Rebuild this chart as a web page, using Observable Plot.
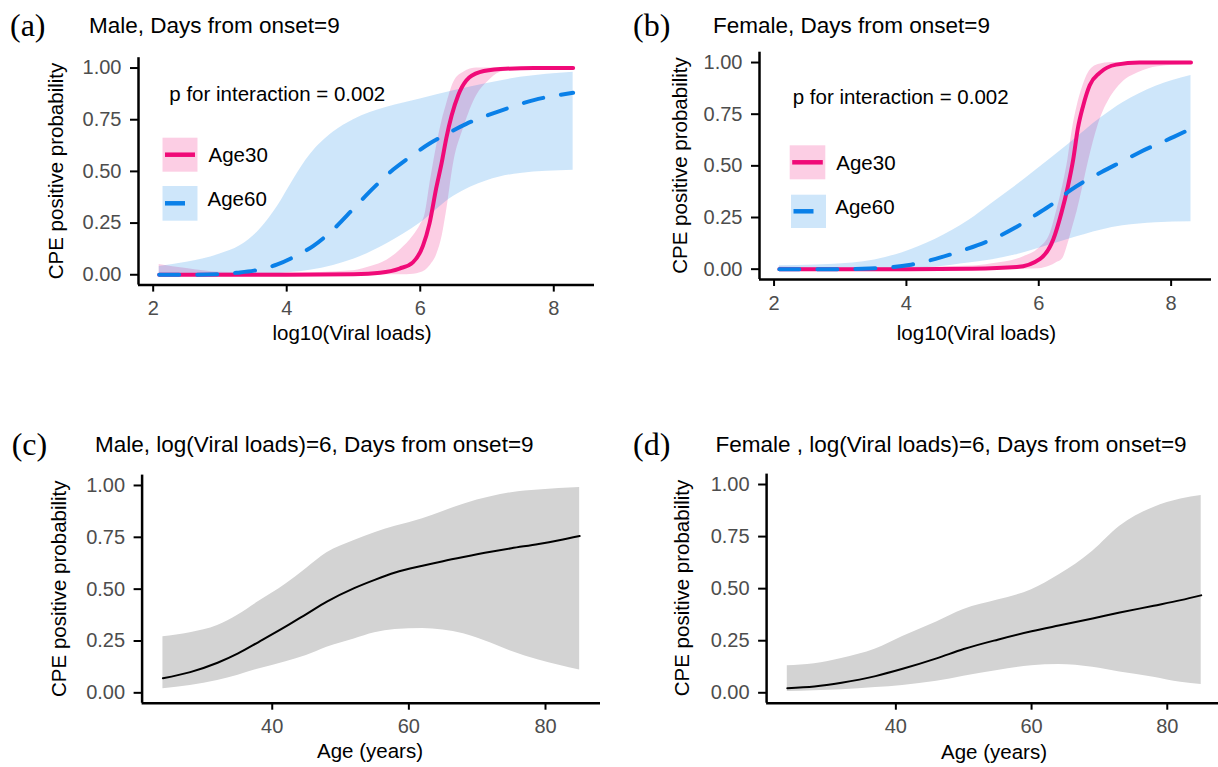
<!DOCTYPE html>
<html>
<head>
<meta charset="utf-8">
<script src="https://cdn.jsdelivr.net/npm/d3@7"></script>
<script src="https://cdn.jsdelivr.net/npm/@observablehq/plot@0.6"></script>
<style>
html,body{margin:0;padding:0;background:#fff;}
#root{position:relative;width:1218px;height:767px;overflow:hidden;background:#fff;}
#root svg{position:absolute;overflow:visible;}
</style>
</head>
<body>
<div id="root"></div>
<script>
// ---------- data ----------
// Panel (a) Male, Days from onset = 9
const a30X   = [2.09, 3.0, 4.0, 5.0, 5.4, 5.69, 5.89, 6.04, 6.14, 6.24, 6.32, 6.39, 6.47, 6.57, 6.69, 6.89, 7.2, 7.7, 8.29];
const a30Fit = [0.0, 0.0, 0.0, 0.003, 0.01, 0.03, 0.06, 0.14, 0.25, 0.42, 0.54, 0.66, 0.77, 0.87, 0.94, 0.98, 0.995, 1.0, 1.0];
const a30RibX = [2.09, 2.5, 3.0, 4.0, 5.0, 5.26, 5.5, 5.7, 5.9, 6.0, 6.07, 6.15, 6.25, 6.33, 6.39, 6.5, 6.65, 6.85, 7.0, 7.2, 7.5, 8.29];
const a30Hi  = [0.05, 0.03, 0.012, 0.008, 0.02, 0.04, 0.07, 0.12, 0.19, 0.24, 0.29, 0.45, 0.63, 0.75, 0.82, 0.93, 0.98, 1.0, 1.0, 1.0, 1.0, 1.0];
const a30Lo  = [0.0, 0.0, 0.0, 0.0, 0.0, 0.0, 0.0, 0.0, 0.003, 0.01, 0.02, 0.045, 0.1, 0.19, 0.3, 0.54, 0.71, 0.87, 0.93, 0.98, 0.995, 1.0];

const a60X   = [2.09, 2.5, 3.0, 3.26, 3.51, 3.86, 4.1, 4.4, 4.7, 5.0, 5.3, 5.6, 5.89, 6.14, 6.39, 6.69, 7.0, 7.35, 7.7, 8.29];
const a60Fit = [0.0, 0.0, 0.003, 0.01, 0.02, 0.05, 0.085, 0.14, 0.22, 0.32, 0.42, 0.51, 0.58, 0.635, 0.68, 0.73, 0.77, 0.81, 0.845, 0.88];
const a60RibX = [2.09, 2.5, 3.0, 3.3, 3.6, 3.86, 4.1, 4.35, 4.7, 5.0, 5.5, 6.0, 6.5, 7.0, 7.5, 8.29];
const a60Hi  = [0.04, 0.06, 0.1, 0.14, 0.22, 0.33, 0.46, 0.58, 0.69, 0.75, 0.81, 0.85, 0.89, 0.925, 0.955, 0.98];
const a60Lo  = [0.0, 0.0, 0.0, 0.0, 0.002, 0.005, 0.012, 0.022, 0.045, 0.075, 0.15, 0.25, 0.38, 0.455, 0.49, 0.505];

// Panel (b) Female, Days from onset = 9
const b30X   = [2.08, 3.0, 4.0, 5.0, 5.67, 6.02, 6.22, 6.34, 6.44, 6.52, 6.59, 6.67, 6.77, 6.92, 7.17, 7.52, 8.3];
const b30Fit = [0.0, 0.0, 0.0, 0.002, 0.01, 0.05, 0.145, 0.27, 0.40, 0.53, 0.68, 0.79, 0.89, 0.95, 0.99, 1.0, 1.0];
const b30RibX = [2.08, 3.0, 4.0, 5.0, 5.27, 5.77, 6.0, 6.17, 6.26, 6.36, 6.44, 6.51, 6.58, 6.66, 6.75, 6.9, 7.1, 7.25, 7.5, 7.8, 8.3];
const b30Hi  = [0.01, 0.005, 0.008, 0.015, 0.025, 0.06, 0.1, 0.17, 0.27, 0.40, 0.53, 0.68, 0.79, 0.88, 0.95, 0.99, 1.0, 1.0, 1.0, 1.0, 1.0];
const b30Lo  = [0.0, 0.0, 0.0, 0.0, 0.0, 0.0, 0.002, 0.015, 0.03, 0.05, 0.12, 0.2, 0.28, 0.39, 0.52, 0.70, 0.84, 0.9, 0.95, 0.98, 0.99];

const b60X   = [2.08, 3.0, 3.44, 3.79, 4.04, 4.44, 4.89, 5.3, 5.64, 5.94, 6.27, 6.47, 6.95, 7.25, 7.52, 8.04, 8.3];
const b60Fit = [0.0, 0.0, 0.003, 0.01, 0.02, 0.05, 0.095, 0.145, 0.20, 0.26, 0.33, 0.38, 0.47, 0.52, 0.565, 0.64, 0.68];
const b60RibX = [2.08, 3.19, 3.94, 4.44, 4.94, 5.3, 5.64, 5.94, 6.45, 6.95, 7.27, 7.77, 8.3];
const b60Hi  = [0.016, 0.03, 0.08, 0.145, 0.235, 0.32, 0.40, 0.475, 0.605, 0.735, 0.805, 0.885, 0.937];
const b60Lo  = [0.0, 0.0, 0.003, 0.01, 0.03, 0.045, 0.068, 0.095, 0.145, 0.19, 0.21, 0.225, 0.23];

// Panel (c) Male, log(Viral loads)=6
const cAge = [24, 28, 32, 35, 38, 42, 45, 48, 52, 55, 58, 62, 65, 68, 72, 75, 79, 82, 85];
const cFit = [0.07, 0.10, 0.145, 0.19, 0.245, 0.32, 0.38, 0.44, 0.505, 0.545, 0.58, 0.613, 0.635, 0.655, 0.68, 0.697, 0.718, 0.736, 0.756];
const cHi  = [0.27, 0.29, 0.325, 0.375, 0.44, 0.525, 0.6, 0.675, 0.735, 0.772, 0.803, 0.84, 0.875, 0.91, 0.945, 0.965, 0.978, 0.985, 0.99];
const cLo  = [0.02, 0.035, 0.06, 0.085, 0.115, 0.15, 0.18, 0.22, 0.26, 0.29, 0.305, 0.31, 0.303, 0.285, 0.24, 0.2, 0.158, 0.133, 0.11];

// Panel (d) Female, log(Viral loads)=6
const dAge = [24, 28, 32, 37, 41, 46, 50, 55, 60, 64, 69, 73, 78, 82, 85];
const dFit = [0.022, 0.03, 0.048, 0.08, 0.115, 0.165, 0.21, 0.255, 0.295, 0.323, 0.357, 0.385, 0.418, 0.445, 0.468];
const dHi  = [0.13, 0.14, 0.165, 0.21, 0.27, 0.34, 0.40, 0.445, 0.495, 0.565, 0.68, 0.8, 0.89, 0.93, 0.947];
const dLo  = [0.006, 0.01, 0.015, 0.025, 0.035, 0.055, 0.08, 0.107, 0.13, 0.136, 0.123, 0.1, 0.075, 0.05, 0.04];

// ticks
const yTicks = [0, 0.25, 0.5, 0.75, 1];
const vlTicks = [2, 4, 6, 8];
const ageTicks = [40, 60, 80];

// ---------- helpers ----------
const FONT = '"Liberation Sans", Arial, Helvetica, sans-serif';
const SERIF = '"Liberation Serif", "Times New Roman", serif';
const PINK = "#F00A78";
const BLUE = "#0A80E8";
const GREY = "#D3D3D3";
const yDomain = [-0.05, 1.05];
const vlDomain = [1.78, 8.61];
const ageDomain = [20.95, 88.05];

const pts = (xs, ys) => xs.map((x, i) => ({x, y: ys[i]}));
const rib = (xs, lo, hi) => xs.map((x, i) => ({x, lo: lo[i], hi: hi[i]}));

const root = document.getElementById("root");

function axes(xDomain, xTicks) {
  return [
    Plot.ruleX([xDomain[0]], {stroke: "black", strokeWidth: 2.5}),
    Plot.ruleY([yDomain[0]], {stroke: "black", strokeWidth: 2.5}),
    Plot.axisY({ticks: yTicks, tickFormat: d3.format(".2f"), tickSize: 8, tickPadding: 9,
      stroke: "black", strokeWidth: 2, fill: "#4d4d4d", fontSize: 20, label: null}),
    Plot.axisX({ticks: xTicks, tickFormat: d3.format("d"), tickSize: 7, tickPadding: 9,
      stroke: "black", strokeWidth: 2, fill: "#4d4d4d", fontSize: 20, label: null})
  ];
}

function place(svg, left, top) {
  svg.style.position = "absolute";
  svg.style.left = left + "px";
  svg.style.top = top + "px";
  svg.style.maxWidth = "none";
  root.appendChild(svg);
}

function viralPanel(r30, f30, r60, f60, geom) {
  return Plot.plot({
    width: geom.w, height: geom.h,
    marginLeft: geom.ml, marginRight: geom.mr, marginTop: geom.mt, marginBottom: geom.mb,
    x: {domain: vlDomain},
    y: {domain: yDomain},
    style: {fontFamily: FONT, background: "transparent", overflow: "visible"},
    marks: [
      Plot.areaY(r30, {x: "x", y1: "lo", y2: "hi", fill: PINK, fillOpacity: 0.2, curve: "monotone-x"}),
      Plot.areaY(r60, {x: "x", y1: "lo", y2: "hi", fill: BLUE, fillOpacity: 0.2, curve: "monotone-x"}),
      Plot.line(f30, {x: "x", y: "y", stroke: PINK, strokeWidth: 4, curve: "monotone-x"}),
      Plot.line(f60, {x: "x", y: "y", stroke: BLUE, strokeWidth: 4, strokeDasharray: "20,18", curve: "monotone-x"}),
      ...axes(vlDomain, vlTicks)
    ]
  });
}

function agePanel(ribbon, fit, geom) {
  return Plot.plot({
    width: geom.w, height: geom.h,
    marginLeft: geom.ml, marginRight: geom.mr, marginTop: geom.mt, marginBottom: geom.mb,
    x: {domain: ageDomain},
    y: {domain: yDomain},
    style: {fontFamily: FONT, background: "transparent", overflow: "visible"},
    marks: [
      Plot.areaY(ribbon, {x: "x", y1: "lo", y2: "hi", fill: GREY, curve: "monotone-x"}),
      Plot.line(fit, {x: "x", y: "y", stroke: "black", strokeWidth: 2, curve: "monotone-x"}),
      ...axes(ageDomain, ageTicks)
    ]
  });
}

place(viralPanel(rib(a30RibX, a30Lo, a30Hi), pts(a30X, a30Fit), rib(a60RibX, a60Lo, a60Hi), pts(a60X, a60Fit),
  {w: 609, h: 380, ml: 138, mr: 15, mt: 57.2, mb: 95.4}), 0, 0);
place(viralPanel(rib(b30RibX, b30Lo, b30Hi), pts(b30X, b30Fit), rib(b60RibX, b60Lo, b60Hi), pts(b60X, b60Fit),
  {w: 609, h: 380, ml: 150, mr: 7, mt: 51.7, mb: 101}), 609, 0);
place(agePanel(rib(cAge, cLo, cHi), pts(cAge, cFit),
  {w: 609, h: 387, ml: 141.6, mr: 9, mt: 94.6, mb: 64.3}), 0, 380);
place(agePanel(rib(dAge, dLo, dHi), pts(dAge, dFit),
  {w: 616, h: 387, ml: 157.1, mr: 3.6, mt: 93.6, mb: 64.3}), 609, 380);

// ---------- overlay: titles, axis titles, annotation, legends ----------
const ov = d3.create("svg").attr("width", 1218).attr("height", 767)
  .style("left", "0px").style("top", "0px").style("pointer-events", "none");

const texts = [
  {t: "(a)", x: 10, y: 36, f: SERIF, s: 32},
  {t: "Male, Days from onset=9", x: 89, y: 33.3, s: 22.5},
  {t: "(b)", x: 633, y: 36, f: SERIF, s: 32},
  {t: "Female, Days from onset=9", x: 713, y: 33.3, s: 22.5},
  {t: "(c)", x: 11.7, y: 455, f: SERIF, s: 32},
  {t: "Male, log(Viral loads)=6, Days from onset=9", x: 95, y: 451.7, s: 22.5},
  {t: "(d)", x: 633, y: 455, f: SERIF, s: 32},
  {t: "Female , log(Viral loads)=6, Days from onset=9", x: 715.5, y: 451.7, s: 22.5},
  {t: "p for interaction = 0.002", x: 169.3, y: 100.7, s: 20.5},
  {t: "p for interaction = 0.002", x: 792.7, y: 103.5, s: 20.5},
  {t: "Age30", x: 208.5, y: 162.3, s: 20.5},
  {t: "Age60", x: 207.5, y: 205.7, s: 20.5},
  {t: "Age30", x: 836.3, y: 170.3, s: 20.5},
  {t: "Age60", x: 835.3, y: 214.3, s: 20.5},
  {t: "log10(Viral loads)", x: 352, y: 340, s: 20.5, a: "middle"},
  {t: "log10(Viral loads)", x: 976.4, y: 340, s: 20.5, a: "middle"},
  {t: "Age (years)", x: 370, y: 757.5, s: 20.5, a: "middle"},
  {t: "Age (years)", x: 994, y: 759, s: 20.5, a: "middle"},
  {t: "CPE positive probability", x: 63, y: 171, s: 20.5, a: "middle", r: true},
  {t: "CPE positive probability", x: 686.7, y: 165.5, s: 20.5, a: "middle", r: true},
  {t: "CPE positive probability", x: 66.4, y: 588.7, s: 20.5, a: "middle", r: true},
  {t: "CPE positive probability", x: 688.7, y: 588, s: 20.5, a: "middle", r: true}
];

// legend keys
const keys = [
  {x: 162.5, y: 137.7, w: 35, h: 34, c: PINK, ly: 154.7, dash: null},
  {x: 162.5, y: 186, w: 35, h: 34.7, c: BLUE, ly: 203.3, dash: "20,18"},
  {x: 789.7, y: 145.3, w: 35.6, h: 34, c: PINK, ly: 162.3, dash: null},
  {x: 791, y: 194.7, w: 35, h: 33.3, c: BLUE, ly: 211.3, dash: "20,18"}
];
for (const k of keys) {
  ov.append("rect").attr("x", k.x).attr("y", k.y).attr("width", k.w).attr("height", k.h)
    .attr("fill", k.c).attr("fill-opacity", 0.2);
  const ln = ov.append("line").attr("x1", k.x + 2.5).attr("x2", k.x + k.w - 2.5)
    .attr("y1", k.ly).attr("y2", k.ly).attr("stroke", k.c).attr("stroke-width", 4.5);
  if (k.dash) ln.attr("stroke-dasharray", k.dash);
}

for (const d of texts) {
  const el = ov.append("text")
    .attr("font-family", d.f || FONT)
    .attr("font-size", d.s)
    .attr("fill", "black")
    .attr("text-anchor", d.a || "start")
    .text(d.t);
  if (d.r) {
    el.attr("transform", `translate(${d.x},${d.y}) rotate(-90)`);
  } else {
    el.attr("x", d.x).attr("y", d.y);
  }
}
root.appendChild(ov.node());
</script>
</body>
</html>
